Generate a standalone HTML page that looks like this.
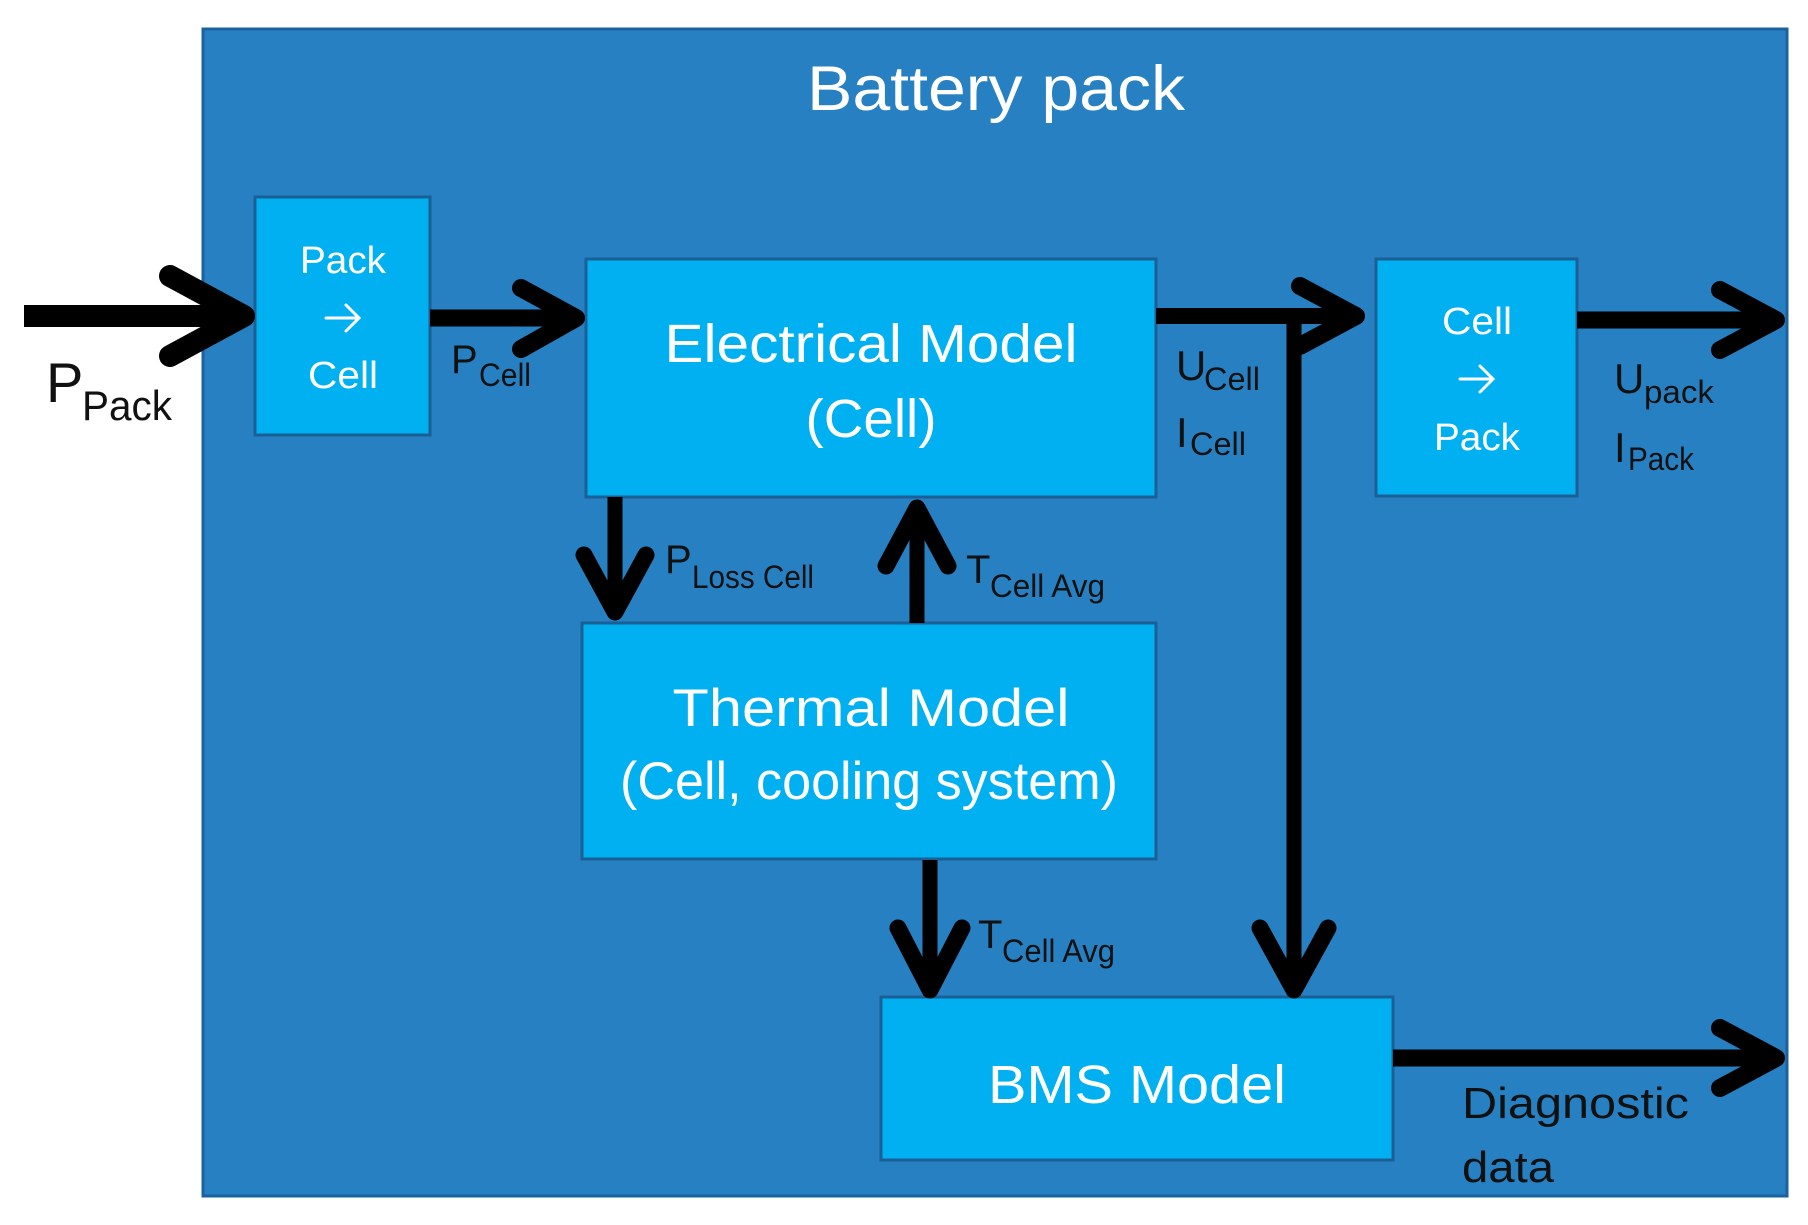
<!DOCTYPE html>
<html><head><meta charset="utf-8"><style>
html,body{margin:0;padding:0;background:#fff;}
svg{display:block;}
text{font-family:"Liberation Sans",sans-serif;}
.w{fill:#fff;}
.k{fill:#111;}
</style></head><body>
<svg width="1808" height="1225" viewBox="0 0 1808 1225" xmlns="http://www.w3.org/2000/svg">
<rect x="203" y="29" width="1584" height="1167" fill="#2780c1" stroke="#1b62a0" stroke-width="3"/>
<text class="w" x="996" y="110" font-size="63" text-anchor="middle" textLength="378" lengthAdjust="spacingAndGlyphs">Battery pack</text>

<g fill="#00b0f0" stroke="#1a5f95" stroke-width="3">
<rect x="255" y="197" width="175" height="238"/>
<rect x="586" y="259" width="570" height="238"/>
<rect x="1376" y="259" width="201" height="237"/>
<rect x="582" y="623" width="574" height="236"/>
<rect x="881" y="997" width="512" height="163"/>
</g>

<g class="w">
<text x="343" y="273" font-size="38" text-anchor="middle" textLength="86" lengthAdjust="spacingAndGlyphs">Pack</text>
<text x="343" y="388" font-size="38" text-anchor="middle" textLength="70" lengthAdjust="spacingAndGlyphs">Cell</text>
<text x="1477" y="334" font-size="38" text-anchor="middle" textLength="70" lengthAdjust="spacingAndGlyphs">Cell</text>
<text x="1477" y="450" font-size="38" text-anchor="middle" textLength="86" lengthAdjust="spacingAndGlyphs">Pack</text>
<text x="871" y="362" font-size="54" text-anchor="middle" textLength="413" lengthAdjust="spacingAndGlyphs">Electrical Model</text>
<text x="871" y="437" font-size="54" text-anchor="middle" textLength="131" lengthAdjust="spacingAndGlyphs">(Cell)</text>
<text x="871" y="726" font-size="53" text-anchor="middle" textLength="397" lengthAdjust="spacingAndGlyphs">Thermal Model</text>
<text x="869" y="799" font-size="53" text-anchor="middle" textLength="498" lengthAdjust="spacingAndGlyphs">(Cell, cooling system)</text>
<text x="1137" y="1103" font-size="54" text-anchor="middle" textLength="298" lengthAdjust="spacingAndGlyphs">BMS Model</text>
</g>
<g stroke="#fff" stroke-width="3" fill="none" stroke-linecap="round">
<line x1="326" y1="318" x2="358" y2="318"/><polyline points="346,305 359,318 346,331"/>
<line x1="1460" y1="379" x2="1492" y2="379"/><polyline points="1480,366 1493,379 1480,392"/>
</g>

<g stroke="#000" fill="none" stroke-linecap="round" stroke-linejoin="round">
<line x1="24" y1="316" x2="244" y2="316" stroke-width="22" stroke-linecap="butt"/>
<polyline points="170,276 244,316 170,356" stroke-width="22"/>
<line x1="430" y1="318" x2="576" y2="318" stroke-width="17" stroke-linecap="butt"/>
<polyline points="521,288 576,318 521,349" stroke-width="18"/>
<line x1="1156" y1="316" x2="1356" y2="316" stroke-width="16" stroke-linecap="butt"/>
<polyline points="1300,286 1356,316 1300,346" stroke-width="18"/>
<line x1="1294" y1="316" x2="1294" y2="990" stroke-width="15" stroke-linecap="butt"/>
<polyline points="1260,928 1294,990 1328,928" stroke-width="17"/>
<line x1="1577" y1="320" x2="1776" y2="320" stroke-width="17" stroke-linecap="butt"/>
<polyline points="1720,290 1776,320 1720,350" stroke-width="18"/>
<line x1="615" y1="497" x2="615" y2="612" stroke-width="15" stroke-linecap="butt"/>
<polyline points="584,555 615,612 646,555" stroke-width="17"/>
<line x1="917" y1="623" x2="917" y2="508" stroke-width="15" stroke-linecap="butt"/>
<polyline points="886,566 917,508 948,566" stroke-width="17"/>
<line x1="930" y1="860" x2="930" y2="990" stroke-width="15" stroke-linecap="butt"/>
<polyline points="898,928 930,990 962,928" stroke-width="17"/>
<line x1="1393" y1="1058" x2="1776" y2="1058" stroke-width="17" stroke-linecap="butt"/>
<polyline points="1720,1028 1776,1058 1720,1088" stroke-width="18"/>
</g>

<g class="k">
<text x="46" y="402" font-size="56">P</text>
<text x="82" y="420" font-size="42" textLength="90" lengthAdjust="spacingAndGlyphs">Pack</text>
<text x="451" y="373" font-size="40">P</text>
<text x="479" y="386" font-size="32" textLength="52" lengthAdjust="spacingAndGlyphs">Cell</text>
<text x="1176" y="380" font-size="42">U</text>
<text x="1204" y="390" font-size="32" textLength="56" lengthAdjust="spacingAndGlyphs">Cell</text>
<text x="1176" y="447" font-size="42">I</text>
<text x="1190" y="455" font-size="32" textLength="56" lengthAdjust="spacingAndGlyphs">Cell</text>
<text x="1614" y="393" font-size="42">U</text>
<text x="1644" y="403" font-size="32" textLength="70" lengthAdjust="spacingAndGlyphs">pack</text>
<text x="1614" y="462" font-size="42">I</text>
<text x="1628" y="470" font-size="32" textLength="66" lengthAdjust="spacingAndGlyphs">Pack</text>
<text x="665" y="573" font-size="40">P</text>
<text x="692" y="588" font-size="32" textLength="122" lengthAdjust="spacingAndGlyphs">Loss Cell</text>
<text x="966" y="583" font-size="40">T</text>
<text x="990" y="597" font-size="32" textLength="115" lengthAdjust="spacingAndGlyphs">Cell Avg</text>
<text x="978" y="948" font-size="40">T</text>
<text x="1002" y="962" font-size="32" textLength="113" lengthAdjust="spacingAndGlyphs">Cell Avg</text>
<text x="1462" y="1118" font-size="44" textLength="227" lengthAdjust="spacingAndGlyphs">Diagnostic</text>
<text x="1462" y="1182" font-size="44" textLength="92" lengthAdjust="spacingAndGlyphs">data</text>
</g>
</svg>
</body></html>
